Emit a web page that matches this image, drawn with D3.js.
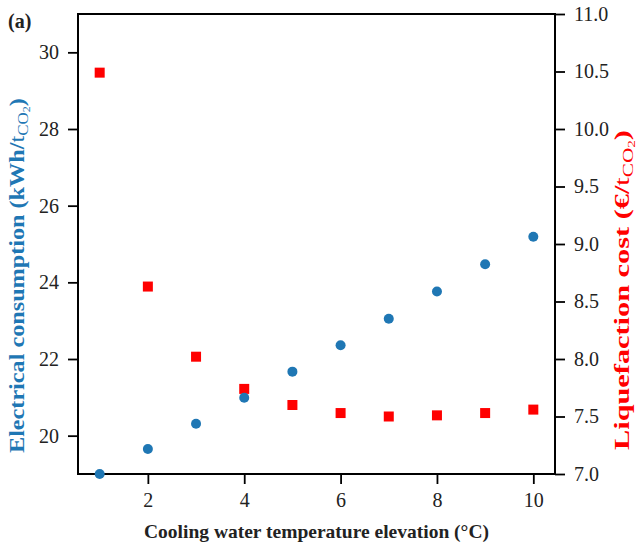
<!DOCTYPE html>
<html>
<head>
<meta charset="utf-8">
<script src="https://cdn.jsdelivr.net/npm/d3@7"></script>
<style>
  body { margin: 0; background: #fff; }
  svg text { font-family: "Liberation Serif", "DejaVu Serif", serif; }
</style>
</head>
<body>
<div id="chart"></div>
<script>
// Cooling water temperature elevation (°C)
const tempElevation = [1, 2, 3, 4, 5, 6, 7, 8, 9, 10];
// Electrical consumption (kWh/tCO2), left axis
const electrical = [19.0, 19.65, 20.31, 20.99, 21.67, 22.36, 23.05, 23.76, 24.47, 25.19];
// Liquefaction cost (€/tCO2), right axis
const liqCost = [10.49, 8.63, 8.02, 7.74, 7.60, 7.53, 7.50, 7.51, 7.53, 7.56];

const xTicks = [2, 4, 6, 8, 10];
const leftTicks = [20, 22, 24, 26, 28, 30];
const rightTicks = [7.0, 7.5, 8.0, 8.5, 9.0, 9.5, 10.0, 10.5, 11.0];

const width = 636, height = 545;
const margin = { top: 14, right: 81, bottom: 71, left: 78 };
const innerW = width - margin.left - margin.right;
const innerH = height - margin.top - margin.bottom;

const blue = "#1f77b4";
const red = "#ff0000";
const serif = '"Liberation Serif", "DejaVu Serif", serif';

const svg = d3.select("#chart").append("svg")
  .attr("width", width)
  .attr("height", height);

const g = svg.append("g")
  .attr("transform", `translate(${margin.left},${margin.top})`);

const x = d3.scaleLinear().domain([0.55, 10.45]).range([0, innerW]);
const yL = d3.scaleLinear().domain([19, 31]).range([innerH, 0]);
const yR = d3.scaleLinear().domain([7, 11]).range([innerH, 0]);

// Axes
const styleAxis = sel => {
  sel.attr("font-family", serif);
  sel.select(".domain").remove();
  sel.selectAll(".tick line").attr("stroke", "#000").attr("stroke-width", 1.8);
  sel.selectAll(".tick text").attr("fill", "#222")
    .style("font-family", serif).style("font-size", "20px");
};

g.append("g")
  .attr("transform", `translate(0,${innerH})`)
  .call(d3.axisBottom(x).tickValues(xTicks).tickSize(10).tickPadding(9).tickFormat(d3.format("d")))
  .call(styleAxis);

g.append("g")
  .call(d3.axisLeft(yL).tickValues(leftTicks).tickSize(10).tickPadding(9).tickFormat(d3.format("d")))
  .call(styleAxis);

g.append("g")
  .attr("transform", `translate(${innerW},0)`)
  .call(d3.axisRight(yR).tickValues(rightTicks).tickSize(10).tickPadding(9).tickFormat(d3.format(".1f")))
  .call(styleAxis);

// Frame
g.append("rect")
  .attr("width", innerW)
  .attr("height", innerH)
  .attr("fill", "none")
  .attr("stroke", "#000")
  .attr("stroke-width", 2);

// Markers
g.selectAll(".sq")
  .data(tempElevation)
  .join("rect")
  .attr("class", "sq")
  .attr("x", d => x(d) - 5)
  .attr("y", (d, i) => yR(liqCost[i]) - 5)
  .attr("width", 10)
  .attr("height", 10)
  .attr("fill", red);

g.selectAll(".dot")
  .data(tempElevation)
  .join("circle")
  .attr("class", "dot")
  .attr("cx", d => x(d))
  .attr("cy", (d, i) => yL(electrical[i]))
  .attr("r", 5)
  .attr("fill", blue);

// Axis titles
svg.append("text")
  .attr("x", margin.left + innerW / 2)
  .attr("y", 538)
  .attr("text-anchor", "middle")
  .style("font-size", "19.5px")
  .style("font-weight", "bold")
  .attr("fill", "#222")
  .text("Cooling water temperature elevation (°C)");

// vertical title, stretched along its length to span yStart..yEnd
function subTitle(xPos, yStart, yEnd, color, main) {
  const t = svg.append("text")
    .attr("text-anchor", "start")
    .style("font-size", "20px")
    .style("font-weight", "bold")
    .attr("fill", color);
  t.append("tspan").text(main);
  t.append("tspan").style("font-weight", "normal").text("t");
  t.append("tspan").attr("dy", 4).style("font-size", "14px").style("font-weight", "normal").text("CO");
  t.append("tspan").attr("dy", 2).style("font-size", "10px").style("font-weight", "normal").text("2");
  t.append("tspan").attr("dy", -6).text(")");
  const w = t.node().getBBox().width;
  const s = (yStart - yEnd) / w;
  t.attr("transform", `translate(${xPos},${yStart}) rotate(-90) scale(${s},1)`);
}

subTitle(24, 453, 98, blue, "Electrical consumption (kWh/");
subTitle(629, 450, 130, red, "Liquefaction cost (€/");

// Panel label
svg.append("text")
  .attr("x", 8)
  .attr("y", 28)
  .style("font-size", "20px")
  .style("font-weight", "bold")
  .attr("fill", "#222")
  .text("(a)");
</script>
</body>
</html>
